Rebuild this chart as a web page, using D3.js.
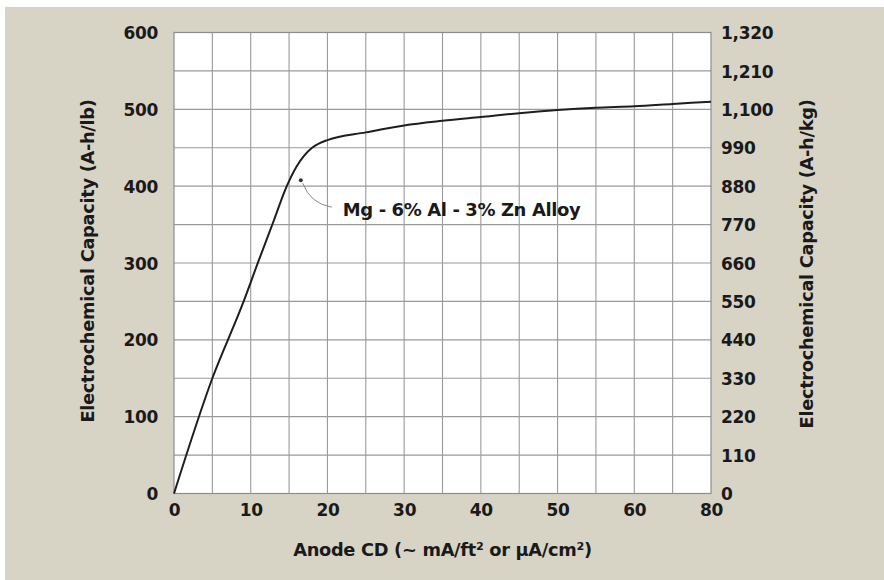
<!DOCTYPE html>
<html lang="en">
<head>
<meta charset="utf-8">
<script src="https://d3js.org/d3.v7.min.js"></script>
<style>
  body { margin: 0; background: #fff; }
  svg { display: block; }
  .tick-label { font-family: "DejaVu Sans", sans-serif; font-weight: bold; font-size: 17px; fill: #1a1a1a; letter-spacing: -0.3px; }
  .axis-title { font-family: "DejaVu Sans", sans-serif; font-weight: bold; font-size: 17.8px; fill: #1a1a1a; letter-spacing: -0.3px; }
</style>
</head>
<body>
<script>
// anode current density (mA/ft2) vs capacity (A-h/lb)
const cd = [0, 5, 9, 11, 13, 14.7, 16, 17, 18, 19, 20, 25, 30, 35, 40, 45, 50, 55, 60, 65, 70];
const capacity = [0, 150, 248, 302, 355, 400, 426, 440, 450, 456, 460, 470, 479, 485, 490, 495, 499, 502, 504, 507, 510];

// tick labels as printed on the original (last one reads "80")
const xTicks = [0, 10, 20, 30, 40, 50, 60, 70];
const xTickLabels = ["0", "10", "20", "30", "40", "50", "60", "80"];
const yTicks = [0, 100, 200, 300, 400, 500, 600];
const yRightTicks = [0, 110, 220, 330, 440, 550, 660, 770, 880, 990, 1100, 1210, 1320];

const seriesLabel = "Mg - 6% Al - 3% Zn Alloy";
const labelAnchor = [16.4, 409];

const width = 884, height = 580;
const margin = {top: 32.5, right: 173, bottom: 86.5, left: 174};
const w = width - margin.left - margin.right;
const h = height - margin.top - margin.bottom;

const svg = d3.select("body").append("svg")
    .attr("width", width).attr("height", height);

// beige background with white strip at top/left like the scan
svg.append("rect").attr("width", width).attr("height", height).attr("fill", "#fff");
svg.append("rect").attr("x", 5).attr("y", 7).attr("width", width - 5).attr("height", height - 7)
    .attr("fill", "#d7d4c6");

const g = svg.append("g").attr("transform", `translate(${margin.left},${margin.top})`);

const x = d3.scaleLinear().domain([0, 70]).range([0, w]);
const y = d3.scaleLinear().domain([0, 600]).range([h, 0]);
const yR = d3.scaleLinear().domain([0, 1320]).range([h, 0]);

g.append("rect").attr("width", w).attr("height", h).attr("fill", "#fff");

// grid: every 5 units across, every 50 up
g.append("g").selectAll("line").data(d3.range(5, 70, 5)).enter().append("line")
    .attr("x1", d => x(d)).attr("x2", d => x(d)).attr("y1", 0).attr("y2", h)
    .attr("stroke", "#9a9a9a").attr("stroke-width", 1.1);
g.append("g").selectAll("line").data(d3.range(50, 600, 50)).enter().append("line")
    .attr("y1", d => y(d)).attr("y2", d => y(d)).attr("x1", 0).attr("x2", w)
    .attr("stroke", "#9a9a9a").attr("stroke-width", 1.1);

g.append("rect").attr("width", w).attr("height", h)
    .attr("fill", "none").attr("stroke", "#8c8c8c").attr("stroke-width", 1.2);

// left axis
const yAxis = d3.axisLeft(y).tickValues(yTicks).tickSize(0).tickPadding(16);
const ya = g.append("g").call(yAxis);
ya.select(".domain").remove();
ya.selectAll("text").attr("class", "tick-label").attr("dy", "0.36em");

// right axis
const yRAxis = d3.axisRight(yR).tickValues(yRightTicks).tickSize(0).tickPadding(10)
    .tickFormat(d3.format(","));
const yra = g.append("g").attr("transform", `translate(${w},0)`).call(yRAxis);
yra.select(".domain").remove();
yra.selectAll("text").attr("class", "tick-label").attr("dy", "0.36em");

// bottom axis
const xAxis = d3.axisBottom(x).tickValues(xTicks).tickSize(0).tickPadding(14)
    .tickFormat((d, i) => xTickLabels[i]);
const xa = g.append("g").attr("transform", `translate(0,${h})`).call(xAxis);
xa.select(".domain").remove();
xa.selectAll("text").attr("class", "tick-label").attr("dy", "0.5em");

// titles
g.append("text").attr("class", "axis-title")
    .attr("x", w / 2).attr("y", h + 62).attr("text-anchor", "middle")
    .text("Anode CD (~ mA/ft² or µA/cm²)");
g.append("text").attr("class", "axis-title")
    .attr("transform", `translate(${-80},${h / 2 - 2}) rotate(-90)`)
    .attr("text-anchor", "middle")
    .text("Electrochemical Capacity (A-h/lb)");
g.append("text").attr("class", "axis-title")
    .attr("transform", `translate(${w + 102},${h / 2 + 1}) rotate(-90)`)
    .attr("text-anchor", "middle")
    .text("Electrochemical Capacity (A-h/kg)");

// curve
const line = d3.line().x(d => x(d[0])).y(d => y(d[1])).curve(d3.curveMonotoneX);
g.append("path").datum(d3.zip(cd, capacity))
    .attr("d", line).attr("fill", "none")
    .attr("stroke", "#1e1e1e").attr("stroke-width", 2);

// label with leader
const ax = x(labelAnchor[0]), ay = y(labelAnchor[1]);
g.append("path")
    .attr("d", `M${ax + 3},${ay + 4} Q${ax + 10},${ay + 24} ${ax + 32},${ay + 28}`)
    .attr("fill", "none").attr("stroke", "#8a8a8a").attr("stroke-width", 1);
g.append("circle").attr("cx", ax + 1).attr("cy", ay + 1).attr("r", 2).attr("fill", "#333");
g.append("text").attr("class", "axis-title")
    .attr("x", ax + 43).attr("y", ay + 37)
    .style("font-size", "18px").style("letter-spacing", "-0.4px")
    .text(seriesLabel);
</script>
</body>
</html>
